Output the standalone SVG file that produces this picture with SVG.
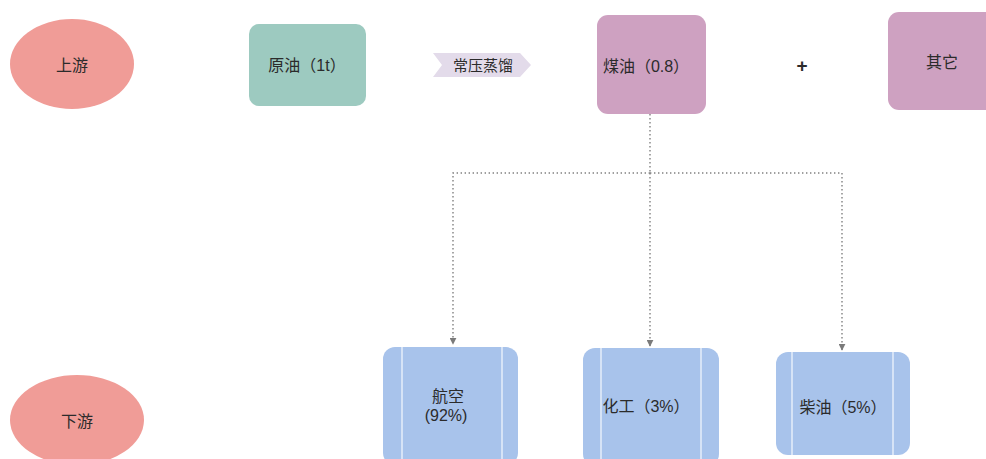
<svg xmlns="http://www.w3.org/2000/svg" width="986" height="459" viewBox="0 0 986 459">
<defs>
<style>
.t{font-family:"Liberation Sans","Noto Sans CJK SC",sans-serif;font-size:16px;fill:#2b2b2b;text-anchor:middle;dominant-baseline:central;text-spacing-trim:space-all}
.ell{fill:#f09c97}
.teal{fill:#9dcac0}
.pur{fill:#cea1c1}
.blue{fill:#a8c3eb}
.vl{stroke:#e6eefa;stroke-width:1.5}
.con{fill:none;stroke:#808080;stroke-width:1.4;stroke-dasharray:1.4 2.6}
</style>
<marker id="ah" viewBox="0 0 10 10" refX="9" refY="5" markerWidth="7" markerHeight="7" orient="auto" markerUnits="userSpaceOnUse">
<path d="M0,0 L10,5 L0,10 z" fill="#7a7a7a"/>
</marker>
</defs>
<rect width="986" height="459" fill="#ffffff"/>
<g id="connectors">
<path class="con" d="M650,114 V173"/>
<path class="con" d="M650,173 H453 V344" marker-end="url(#ah)"/>
<path class="con" d="M650,173 V346" marker-end="url(#ah)"/>
<path class="con" d="M650,173 H842 V350" marker-end="url(#ah)"/>
</g>
<g id="upstream">
<ellipse class="ell" cx="72" cy="64" rx="62" ry="45"/>
<text class="t" x="72" y="65">上游</text>
</g>
<g id="crude">
<rect class="teal" x="249" y="24" width="117" height="82" rx="10"/>
<text class="t" x="307" y="65">原油（1t）</text>
</g>
<g id="distill">
<polygon points="433,53 520,53 531,65 520,77 433,77 442,65" fill="#e3dbea"/>
<text class="t" x="483" y="65" style="font-size:15px">常压蒸馏</text>
</g>
<g id="kerosene">
<rect class="pur" x="597" y="15" width="109" height="99" rx="11"/>
<text class="t" x="646" y="66">煤油（0.8）</text>
</g>
<g id="plus">
<text class="t" x="802" y="65" style="font-size:19px;font-weight:bold">+</text>
</g>
<g id="other">
<rect class="pur" x="888" y="12" width="110" height="98" rx="11"/>
<text class="t" x="942" y="62">其它</text>
</g>
<g id="downstream">
<ellipse class="ell" cx="77" cy="420" rx="67" ry="45"/>
<text class="t" x="77" y="421">下游</text>
</g>
<g id="aviation">
<rect class="blue" x="383" y="347" width="135" height="118" rx="12"/>
<line class="vl" x1="402" y1="347" x2="402" y2="459"/>
<line class="vl" x1="502" y1="347" x2="502" y2="459"/>
<text class="t" x="448" y="396">航空</text>
<text class="t" x="446" y="415">(92%)</text>
</g>
<g id="chemical">
<rect class="blue" x="583" y="348" width="136" height="118" rx="12"/>
<line class="vl" x1="601" y1="348" x2="601" y2="459"/>
<line class="vl" x1="701" y1="348" x2="701" y2="459"/>
<text class="t" x="646" y="406">化工（3%）</text>
</g>
<g id="diesel">
<rect class="blue" x="776" y="352" width="134" height="103" rx="12"/>
<line class="vl" x1="792" y1="352" x2="792" y2="455"/>
<line class="vl" x1="893" y1="352" x2="893" y2="455"/>
<text class="t" x="843" y="407">柴油（5%）</text>
</g>
</svg>
